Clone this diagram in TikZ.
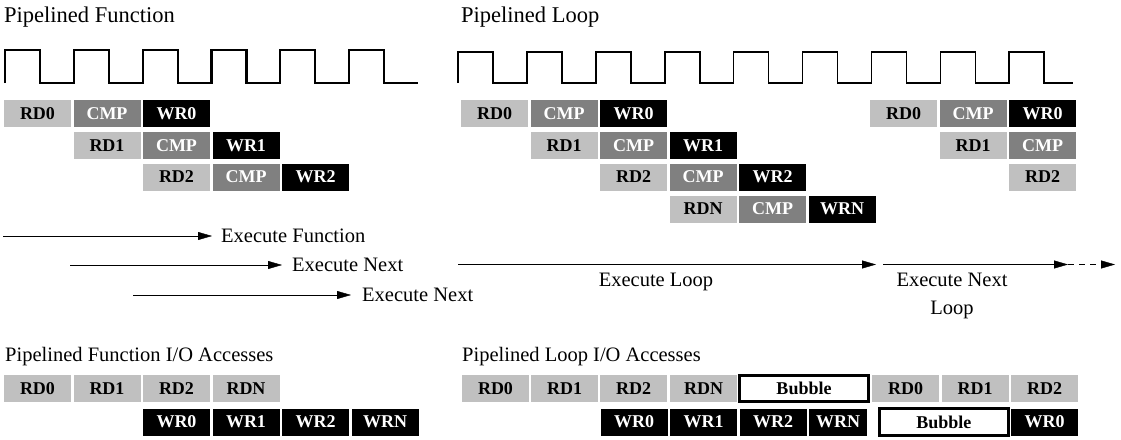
\documentclass[tikz,border=0pt]{standalone}
\usepackage{fontspec}
\setmainfont{Liberation Serif}
\usepackage{tikz}
\usetikzlibrary{positioning,arrows.meta}
\definecolor{rdgray}{RGB}{192,192,192}
\definecolor{cmpgray}{RGB}{128,128,128}
\tikzstyle{stage}=[minimum width=67pt, minimum height=27pt, inner sep=0, outer sep=0, font=\fontsize{18}{18}\selectfont\bfseries]
\tikzstyle{rd}=[stage, fill=rdgray, text=black]
\tikzstyle{cmp}=[stage, fill=cmpgray, text=white]
\tikzstyle{wr}=[stage, fill=black, text=white]
\tikzstyle{bubble}=[stage, draw=black, line width=3pt, fill=white, text=black, minimum width=129pt, minimum height=26pt]
\tikzstyle{heading}=[inner sep=0, anchor=base west, font=\fontsize{22.5}{27}\selectfont]
\tikzstyle{lbl}=[inner sep=0, font=\fontsize{20.5}{28.3}\selectfont]
\tikzstyle{clk}=[line width=2.2pt]
\tikzset{>={Triangle[length=14pt,width=8pt]}}
\newcommand{\drawrd}{\node[rd]}
\newcommand{\drawcmp}{\node[cmp]}
\newcommand{\drawwr}{\node[wr]}
\newcommand{\drawbub}{\node[bubble]}

\begin{document}
\begin{tikzpicture}[x=1pt,y=-1pt]
	\useasboundingbox (0,0) rectangle (1121,439);
	
	\node[heading] (tfun) at (4,23) {Pipelined Function};
	\node[heading] (tloop) at (461,23) {Pipelined Loop};
	\node[heading,font=\fontsize{20.5}{25}\selectfont] (tfunio) at (5,361) {Pipelined Function I/O Accesses};
	\node[heading,font=\fontsize{20.5}{25}\selectfont] (tloopio) at (462,361) {Pipelined Loop I/O Accesses};
	
	% clocks
	\draw[clk] (5,83) \foreach \i in {1,...,6} { -- ++(0,-33) -- ++(35,0) -- ++(0,33) -- ++(33.8,0) };
	\draw[clk,line width=1.6pt] (458,83) \foreach \i in {1,...,8} { -- ++(0,-31) -- ++(35,0) -- ++(0,31) -- ++(33.9,0) }
		-- ++(0,-31) -- ++(35,0) -- ++(0,31) -- ++(29,0);
	
	\drawrd (frd0) at (37.5,113.5) {RD0};
	\drawcmp (fcmp0) at (107,113.5) {CMP};
	\drawwr (fwr0) at (176.5,113.5) {WR0};
	\drawrd (frd1) at (107,145.5) {RD1};
	\drawcmp (fcmp1) at (176.5,145.5) {CMP};
	\drawwr (fwr1) at (246,145.5) {WR1};
	\drawrd (frd2) at (176.5,177) {RD2};
	\drawcmp (fcmp2) at (246,177) {CMP};
	\drawwr (fwr2) at (315.5,177) {WR2};
	
	\drawrd (lrd0) at (494.5,113.5) {RD0};
	\drawcmp (lcmp0) at (564,113.5) {CMP};
	\drawwr (lwr0) at (633.5,113.5) {WR0};
	\drawrd (lrd1) at (564,145.5) {RD1};
	\drawcmp (lcmp1) at (633.5,145.5) {CMP};
	\drawwr (lwr1) at (703,145.5) {WR1};
	\drawrd (lrd2) at (633.5,177) {RD2};
	\drawcmp (lcmp2) at (703,177) {CMP};
	\drawwr (lwr2) at (772.5,177) {WR2};
	\drawrd (lrdn) at (703,209) {RDN};
	\drawcmp (lcmpn) at (772.5,209) {CMP};
	\drawwr (lwrn) at (842,209) {WRN};
	
	\drawrd (nrd0) at (903.5,113.5) {RD0};
	\drawcmp (ncmp0) at (973,113.5) {CMP};
	\drawwr (nwr0) at (1042.5,113.5) {WR0};
	\drawrd (nrd1) at (973,145.5) {RD1};
	\drawcmp (ncmp1) at (1042.5,145.5) {CMP};
	\drawrd (nrd2) at (1042.5,177) {RD2};
	
	% execution arrows
	\coordinate (fs0) at (3,236);
	\coordinate (fs1) at (70,265);
	\coordinate (fs2) at (133,295);
	\node[lbl,anchor=west] (xfun) at (221,236) {Execute Function};
	\node[lbl,anchor=west] (xnext1) at (292,265) {Execute Next};
	\node[lbl,anchor=west] (xnext2) at (362,295) {Execute Next};
	\draw[->,shorten >=9pt] (fs0) -- (xfun.west);
	\draw[->,shorten >=10pt] (fs1) -- (xnext1.west);
	\draw[->,shorten >=11pt] (fs2) -- (xnext2.west);
	
	\coordinate (ls) at (458,264.5);
	\coordinate (le) at (876,264.5);
	\coordinate (ns) at (883,264.5);
	\coordinate (ne) at (1068,264.5);
	\coordinate (nd) at (1115,264.5);
	\draw[->] (ls) -- (le);
	\draw[->] (ns) -- (ne);
	\draw[->,dash pattern=on 6pt off 5pt] (ne) -- (nd);
	\node[lbl,anchor=base] (xloop) at (656,286.7) {Execute Loop};
	\node[lbl,anchor=north,align=center] (xnloop) at (952,273) {Execute Next\\Loop};
	
	% I/O accesses
	\drawrd (brd0) at (37.5,388.5) {RD0};
	\drawrd (brd1) at (107,388.5) {RD1};
	\drawrd (brd2) at (176.5,388.5) {RD2};
	\drawrd (brdn) at (246,388.5) {RDN};
	\drawwr (bwr0) at (176.5,422) {WR0};
	\drawwr (bwr1) at (246,422) {WR1};
	\drawwr (bwr2) at (315.5,422) {WR2};
	\drawwr (bwrn) at (385,422) {WRN};
	
	\drawrd (crd0) at (495.5,388.5) {RD0};
	\drawrd (crd1) at (564.5,388.5) {RD1};
	\drawrd (crd2) at (633.5,388.5) {RD2};
	\drawrd (crdn) at (703.5,388.5) {RDN};
	\drawbub (cbub0) at (804,388.5) {Bubble};
	\drawrd (crd0b) at (905.5,388.5) {RD0};
	\drawrd (crd1b) at (975,388.5) {RD1};
	\drawrd (crd2b) at (1044.5,388.5) {RD2};
	\drawwr (cwr0) at (634,422) {WR0};
	\drawwr (cwr1) at (703.5,422) {WR1};
	\drawwr (cwr2) at (773,422) {WR2};
	\drawwr[minimum width=58pt] (cwrn) at (838,422) {WRN};
	\drawbub[minimum height=27pt] (cbub1) at (943.8,422) {Bubble};
	\drawwr (cwr0b) at (1044.5,422) {WR0};
	
\end{tikzpicture}
\end{document}
